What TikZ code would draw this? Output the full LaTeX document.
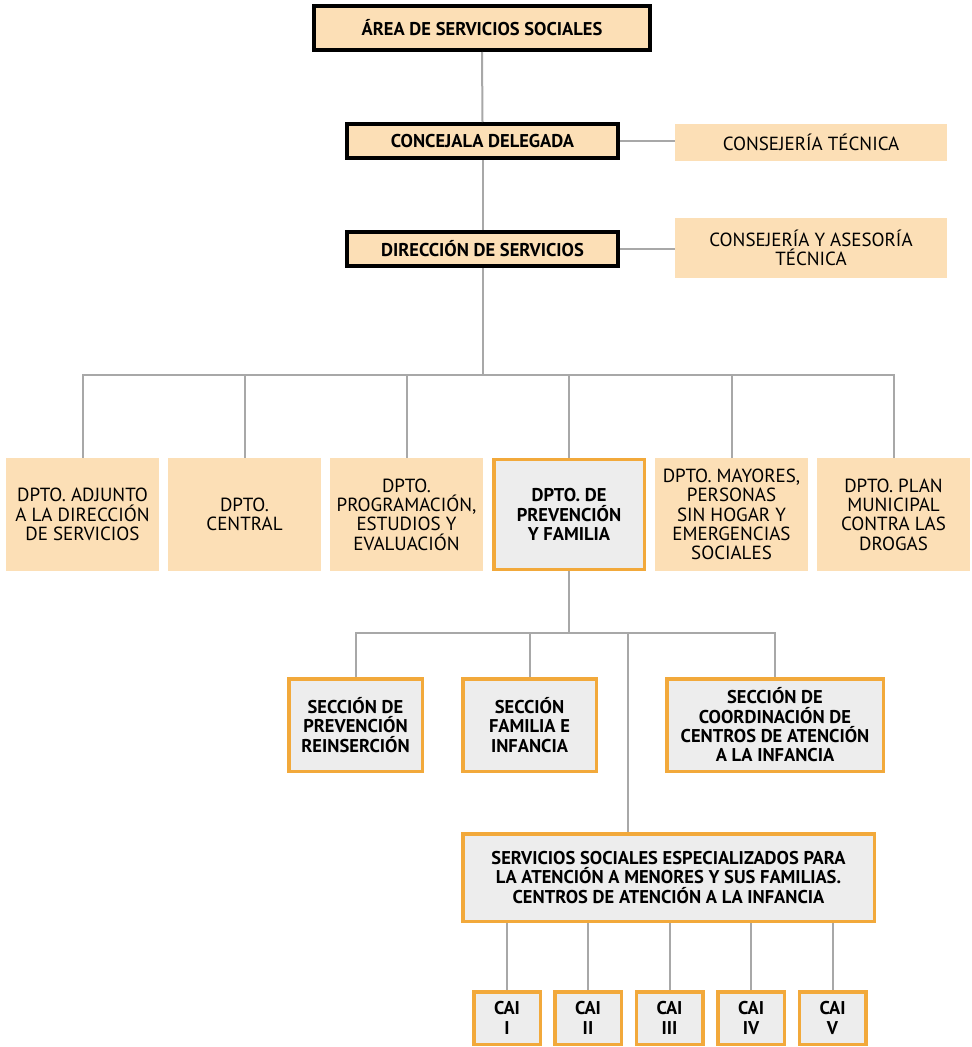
\documentclass[tikz,border=0pt]{standalone}
\usepackage{fontspec}
\setmainfont{PT Sans}
\definecolor{peach}{HTML}{FCDFB6}
\definecolor{ora}{HTML}{F2A93B}
\definecolor{lgrey}{HTML}{EDEDED}
\definecolor{lin}{HTML}{A8A8A8}
\begin{document}
\begin{tikzpicture}[x=1pt,y=-1pt,
  every node/.style={font=\fontsize{19}{19.3}\selectfont, align=center, inner sep=1pt},
  blackbox/.style={fill=peach, draw=black, line width=4pt, font=\fontsize{18.5}{19.3}\selectfont\bfseries},
  peachbox/.style={fill=peach},
  orbox/.style={fill=lgrey, draw=ora, line width=3.5pt, font=\fontsize{18.5}{19.3}\selectfont\bfseries},
  conn/.style={draw=lin, line width=2pt}]
\useasboundingbox (0,0) rectangle (972,1047);
% top levels
\node[blackbox, minimum width=336, minimum height=44] (area) at (482,28) {ÁREA DE SERVICIOS SOCIALES};
\node[blackbox, minimum width=271, minimum height=34] (conc) at (482.5,141) {CONCEJALA DELEGADA};
\node[blackbox, minimum width=271, minimum height=34] (dir) at (482.5,249) {DIRECCIÓN DE SERVICIOS};
\node[peachbox, minimum width=272, minimum height=37] (ct) at (811,142.5) {CONSEJERÍA TÉCNICA};
\node[peachbox, minimum width=272, minimum height=60] (ca) at (811,248) {CONSEJERÍA Y ASESORÍA\\TÉCNICA};
% departments
\node[peachbox, minimum width=153, minimum height=113] (d1) at (82.5,514.5) {DPTO. ADJUNTO\\A LA DIRECCIÓN\\DE SERVICIOS};
\node[peachbox, minimum width=153, minimum height=113] (d2) at (244.5,514.5) {DPTO.\\CENTRAL};
\node[peachbox, minimum width=153, minimum height=113] (d3) at (406.5,514.5) {DPTO.\\PROGRAMACIÓN,\\ESTUDIOS Y\\EVALUACIÓN};
\node[orbox, minimum width=150.5, minimum height=110] (d4) at (569,514.5) {DPTO. DE\\PREVENCIÓN\\Y FAMILIA};
\node[peachbox, minimum width=153, minimum height=113] (d5) at (731.5,514.5) {DPTO. MAYORES,\\PERSONAS\\SIN HOGAR Y\\EMERGENCIAS\\SOCIALES};
\node[peachbox, minimum width=153, minimum height=113] (d6) at (893.5,514.5) {DPTO. PLAN\\MUNICIPAL\\CONTRA LAS\\DROGAS};
% sections
\node[orbox, minimum width=133.5, minimum height=92.5] (s1) at (355.5,725) {SECCIÓN DE\\PREVENCIÓN\\REINSERCIÓN};
\node[orbox, minimum width=133.5, minimum height=92.5] (s2) at (529.5,725) {SECCIÓN\\FAMILIA E\\INFANCIA};
\node[orbox, minimum width=216.5, minimum height=92.5] (s3) at (775,725) {SECCIÓN DE\\COORDINACIÓN DE\\CENTROS DE ATENCIÓN\\A LA INFANCIA};
\node[orbox, minimum width=411.5, minimum height=87.5] (serv) at (668.5,877.5) {SERVICIOS SOCIALES ESPECIALIZADOS PARA\\LA ATENCIÓN A MENORES Y SUS FAMILIAS.\\CENTROS DE ATENCIÓN A LA INFANCIA};
% CAI
\foreach \n/\x/\r in {1/507/I,2/588/II,3/669.5/III,4/751/IV,5/832.5/V}{
  \node[orbox, minimum width=66.5, minimum height=52.5, inner sep=0pt] (cai\n) at (\x,1018) {CAI\\\r};
}
% connectors
\draw[conn] (area.south) -- (conc.north);
\draw[conn] (conc.south) -- (dir.north);
\draw[conn] (conc.east) -- (conc.east -| ct.west);
\draw[conn] (dir.east) -- (dir.east -| ca.west);
\coordinate (hb) at (482.5,375);
\draw[conn] (dir.south) -- (hb);
\draw[conn] (d1.north) -- (d1.north |- hb) -- (d6.north |- hb) -- (d6.north);
\foreach \d in {d2,d3,d4,d5}{\draw[conn] (\d.north |- hb) -- (\d.north);}
\coordinate (hs) at (569,633);
\draw[conn] (d4.south) -- (hs);
\draw[conn] (s1.north) -- (s1.north |- hs) -- (s3.north |- hs) -- (s3.north);
\draw[conn] (s2.north |- hs) -- (s2.north);
\coordinate (hv) at (627.5,633);
\draw[conn] (hv) -- (hv |- serv.north);
\foreach \n in {1,...,5}{\draw[conn] (cai\n.north |- serv.south) -- (cai\n.north);}
\end{tikzpicture}
\end{document}
